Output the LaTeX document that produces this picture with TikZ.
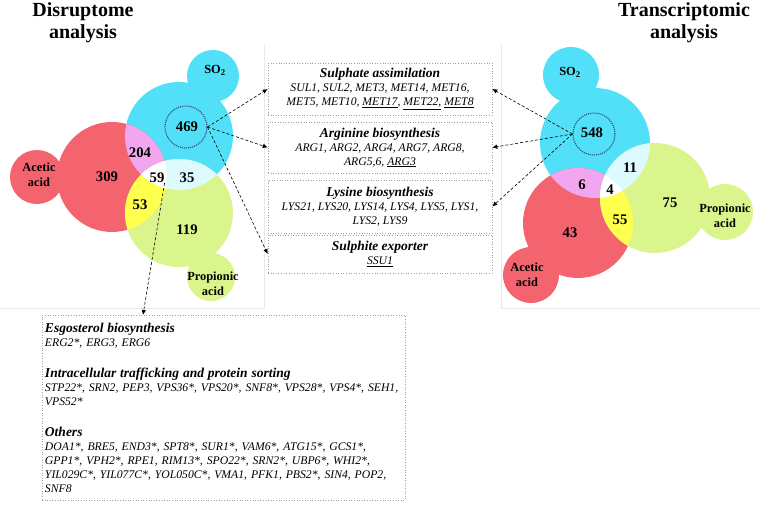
\documentclass[tikz,border=0pt]{standalone}
\usepackage{fontspec}
\setmainfont{Liberation Serif}
\usetikzlibrary{arrows.meta}
\definecolor{setcyan}{HTML}{52E0F8}
\definecolor{setred}{HTML}{F3646F}
\definecolor{setgreen}{HTML}{DAF58C}
\definecolor{setpink}{HTML}{F3A6F0}
\definecolor{setyellow}{HTML}{FFFF4D}
\definecolor{setlcyan}{HTML}{DDFBFF}
\definecolor{dotblue}{HTML}{2E4A7A}
\newcommand{\hdtxt}[1]{{\bfseries\fontsize{13.5}{14}\selectfont #1}}
\begin{document}
\begin{tikzpicture}[x=1pt,y=-1pt,
  num/.style={font=\bfseries\fontsize{14.7}{15}\selectfont, inner sep=0},
  lab/.style={font=\bfseries\fontsize{12.4}{15}\selectfont, align=center, inner sep=0},
  ttl/.style={font=\bfseries\fontsize{20}{22}\selectfont, align=center, inner sep=0},
  gbox/.style={draw=gray!75, dotted, line width=0.6pt, inner sep=0, minimum width=224pt,
     align=center, font=\itshape\fontsize{11.7}{14}\selectfont},
  arr/.style={densely dashed, line width=0.6pt, -{Latex[length=5pt,width=4.5pt]}},
  dcirc/.style={draw=dotblue, densely dotted, line width=1.1pt, circle, inner sep=0, minimum size=42pt},
  panel/.style={draw=gray!18, line width=0.6pt}
]
\useasboundingbox (0,0) rectangle (761,505);
% faint panel borders
\draw[panel] (264,45) -- (264,308) -- (0,308);
\draw[panel] (501,45) -- (501,308) -- (761,308);

% titles
\node[ttl] (t1) at (83,23) {Disruptome\\analysis};
\node[ttl] (t2) at (684,23) {Transcriptomic\\analysis};

% ---------- left Venn ----------
\fill[setcyan] (179,136) circle[radius=54pt] (213,76) circle[radius=26pt];
\fill[setred] (112,177) circle[radius=55pt] (37,177) circle[radius=27pt];
\fill[setgreen] (179,213) circle[radius=54pt] (211,277) circle[radius=24pt];
\begin{scope}\clip (179,136) circle[radius=54pt]; \fill[setpink] (112,177) circle[radius=55pt]; \end{scope}
\begin{scope}\clip (112,177) circle[radius=55pt]; \fill[setyellow] (179,213) circle[radius=54pt]; \end{scope}
\begin{scope}\clip (179,136) circle[radius=54pt]; \fill[setlcyan] (179,213) circle[radius=54pt]; \end{scope}
\begin{scope}\clip (179,136) circle[radius=54pt]; \clip (112,177) circle[radius=55pt]; \fill[white] (179,213) circle[radius=54pt]; \end{scope}

\node[dcirc] (c469) at (186,127) {};
\node[num] (n469) at (187,127) {469};
\node[num] (n204) at (140,153) {204};
\node[num] (n309) at (107,177) {309};
\node[num] (n59) at (157,178) {59};
\node[num] (n35) at (187,178) {35};
\node[num] (n53) at (140,205) {53};
\node[num] (n119) at (187,230) {119};
\node[lab] (lso2a) at (215,70) {SO\textsubscript{2}};
\node[lab] (laca) at (39,175) {Acetic\\acid};
\node[lab] (lpra) at (213,284) {Propionic\\acid};

% ---------- right Venn ----------
\fill[setcyan] (595,143) circle[radius=55pt] (571,75) circle[radius=28pt];
\fill[setred] (578,223) circle[radius=55pt] (531,275) circle[radius=28pt];
\fill[setgreen] (655,198) circle[radius=55pt] (725,212) circle[radius=28pt];
\begin{scope}\clip (595,143) circle[radius=55pt]; \fill[setpink] (578,223) circle[radius=55pt]; \end{scope}
\begin{scope}\clip (578,223) circle[radius=55pt]; \fill[setyellow] (655,198) circle[radius=55pt]; \end{scope}
\begin{scope}\clip (595,143) circle[radius=55pt]; \fill[setlcyan] (655,198) circle[radius=55pt]; \end{scope}
\begin{scope}\clip (595,143) circle[radius=55pt]; \clip (578,223) circle[radius=55pt]; \fill[white] (655,198) circle[radius=55pt]; \end{scope}

\node[dcirc] (c548) at (594,134) {};
\node[num] (n548) at (592,133) {548};
\node[num] (n11) at (630,168) {11};
\node[num] (n6) at (582,185) {6};
\node[num] (n4) at (610,190) {4};
\node[num] (n55) at (620,220) {55};
\node[num] (n75) at (670,203) {75};
\node[num] (n43) at (570,233) {43};
\node[lab] (lso2b) at (570,72) {SO\textsubscript{2}};
\node[lab] (lacb) at (527,275) {Acetic\\acid};
\node[lab] (lprb) at (725,216) {Propionic\\acid};

% ---------- middle boxes ----------
\node[gbox, minimum height=52pt] (b1) at (380,89) {\hdtxt{Sulphate assimilation}\\SUL1, SUL2, MET3, MET14, MET16,\\MET5, MET10, \underline{MET17}, \underline{MET22,} \underline{MET8}};
\node[gbox, minimum height=51pt] (b2) at (380,147.5) {\hdtxt{Arginine biosynthesis}\\ARG1, ARG2, ARG4, ARG7, ARG8,\\ARG5,6, \underline{ARG3}};
\node[gbox, minimum height=53pt] (b3) at (380,206.5) {\hdtxt{Lysine biosynthesis}\\LYS21, LYS20, LYS14, LYS4, LYS5, LYS1,\\LYS2, LYS9};
\node[gbox, minimum height=38pt] (b4) at (380,254) {\hdtxt{Sulphite exporter}\\\underline{SSU1}};

% ---------- bottom box ----------
\node[draw=gray!75, dotted, line width=0.6pt, minimum width=363pt, minimum height=185pt,
      text width=357pt, inner xsep=3pt, inner ysep=0pt, align=left,
      font=\itshape\fontsize{11.7}{14}\selectfont] (bot) at (223.5,407.5)
{\hdtxt{Esgosterol biosynthesis}\\
ERG2*, ERG3, ERG6\\[17pt]
\hdtxt{Intracellular trafficking and protein sorting}\\
STP22*, SRN2, PEP3, VPS36*, VPS20*, SNF8*, VPS28*, VPS4*, SEH1,\\
VPS52*\\[17pt]
\hdtxt{Others}\\
DOA1*, BRE5, END3*, SPT8*, SUR1*, VAM6*, ATG15*, GCS1*,\\
GPP1*, VPH2*, RPE1, RIM13*, SPO22*, SRN2*, UBP6*, WHI2*,\\
YIL029C*, YIL077C*, YOL050C*, VMA1, PFK1, PBS2*, SIN4, POP2,\\
SNF8};

% ---------- arrows ----------
\coordinate (t59) at (143,315);
\draw[arr] (c469.east) -- (b1.west);
\draw[arr] (c469.east) -- (b2.west);
\draw[arr] (c469.east) -- (b4.west);
\draw[arr] (n59.south east) -- (t59);
\draw[arr] (c548.west) -- (b1.east);
\draw[arr] (c548.west) -- (b2.east);
\draw[arr] (c548.west) -- (b3.east);
\end{tikzpicture}
\end{document}
